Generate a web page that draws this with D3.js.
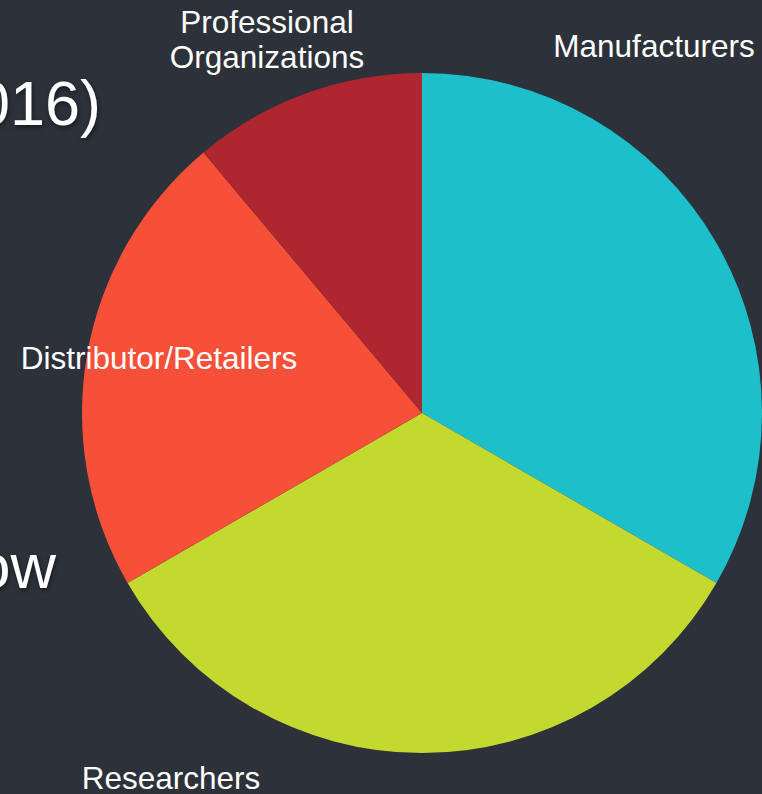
<!DOCTYPE html>
<html>
<head>
<meta charset="utf-8">
<script src="https://cdn.jsdelivr.net/npm/d3@7"></script>
<style>
  html, body { margin: 0; padding: 0; background: #2c313a; overflow: hidden; }
  svg { display: block; font-family: "Liberation Sans", Arial, sans-serif; }
  .bg-text { fill: #fff; font-size: 63px; filter: drop-shadow(1px 2px 2px rgba(0,0,0,0.5)); }
  .label { fill: #fff; font-size: 31.5px; }
</style>
</head>
<body>
<svg id="chart"></svg>
<script>
const categories = ['Manufacturers', 'Researchers', 'Distributor/Retailers', 'Professional Organizations'];
const values = [3, 3, 2, 1];
const colors = ['#1dbfca', '#c3d92f', '#f65039', '#ae2630'];

// label lines and where they sit on the slide
const labelLines = [['Manufacturers'], ['Researchers'], ['Distributor/Retailers'], ['Professional', 'Organizations']];
const labelPos = [[654, 57], [171, 789], [159, 369], [267, 33]];

const width = 762;
const height = 794;
const cx = 422;
const cy = 413;
const radius = 340;

const svg = d3.select('#chart').attr('width', width).attr('height', height);

// fragments of the slide text behind the chart
svg.append('text').attr('class', 'bg-text').attr('x', 101).attr('y', 125)
  .attr('text-anchor', 'end').text('016)');
svg.append('text').attr('class', 'bg-text').attr('x', 56).attr('y', 588)
  .attr('text-anchor', 'end').text('ow');

const data = categories.map((name, i) => ({ name, value: values[i], color: colors[i] }));

const pie = d3.pie().sort(null).value(d => d.value);
const arc = d3.arc().innerRadius(0).outerRadius(radius);

const g = svg.append('g').attr('transform', `translate(${cx}, ${cy})`);
g.selectAll('path')
  .data(pie(data))
  .enter()
  .append('path')
  .attr('d', arc)
  .attr('fill', d => d.data.color);

const labels = svg.append('g').selectAll('text')
  .data(data)
  .enter()
  .append('text')
  .attr('class', 'label')
  .attr('text-anchor', 'middle')
  .attr('x', (d, i) => labelPos[i][0])
  .attr('y', (d, i) => labelPos[i][1]);

labels.each(function(d, i) {
  const t = d3.select(this);
  labelLines[i].forEach((line, j) => {
    t.append('tspan')
      .attr('x', labelPos[i][0])
      .attr('dy', j === 0 ? 0 : 35)
      .text(line);
  });
});
</script>
</body>
</html>
